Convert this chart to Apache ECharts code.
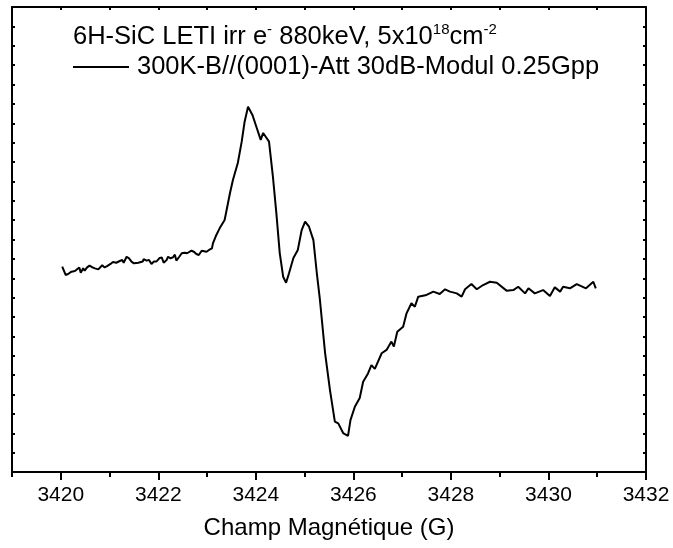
<!DOCTYPE html>
<html>
<head>
<meta charset="utf-8">
<script src="https://cdn.jsdelivr.net/npm/echarts@6/dist/echarts.min.js"></script>
<style>
html, body { margin: 0; padding: 0; background: #fff; }
#epr { width: 673px; height: 548px; }
</style>
</head>
<body>
<div id="epr"></div>
<script>
// magnetic field (G) and EPR signal (arbitrary units)
const field = [
    3420.03, 3420.10, 3420.15, 3420.22, 3420.29, 3420.33, 3420.38, 3420.41, 3420.46, 3420.49,
    3420.54, 3420.59, 3420.65, 3420.70, 3420.77, 3420.80, 3420.85, 3420.90, 3420.95, 3421.02,
    3421.07, 3421.14, 3421.21, 3421.26, 3421.29, 3421.35, 3421.40, 3421.45, 3421.50, 3421.59,
    3421.68, 3421.70, 3421.76, 3421.81, 3421.86, 3421.91, 3421.96, 3422.02, 3422.07, 3422.11,
    3422.17, 3422.20, 3422.25, 3422.30, 3422.34, 3422.37, 3422.43, 3422.48, 3422.54, 3422.59,
    3422.63, 3422.68, 3422.73, 3422.78, 3422.83, 3422.89, 3422.93, 3422.99, 3423.04, 3423.10,
    3423.12, 3423.18, 3423.26, 3423.36, 3423.47, 3423.53, 3423.63, 3423.71, 3423.77, 3423.84,
    3423.93, 3424.01, 3424.10, 3424.15, 3424.22, 3424.27, 3424.35, 3424.42, 3424.49, 3424.56,
    3424.62, 3424.68, 3424.77, 3424.86, 3424.94, 3425.01, 3425.09, 3425.18, 3425.25, 3425.31,
    3425.42, 3425.52, 3425.62, 3425.69, 3425.79, 3425.89, 3425.94, 3426.03, 3426.13, 3426.20,
    3426.30, 3426.37, 3426.44, 3426.58, 3426.68, 3426.78, 3426.83, 3426.90, 3427.02, 3427.09,
    3427.19, 3427.26, 3427.33, 3427.50, 3427.64, 3427.77, 3427.88, 3427.98, 3428.12, 3428.22,
    3428.29, 3428.42, 3428.53, 3428.66, 3428.80, 3428.94, 3429.14, 3429.28, 3429.38, 3429.52,
    3429.59, 3429.72, 3429.89, 3430.03, 3430.13, 3430.24, 3430.30, 3430.44, 3430.58, 3430.77,
    3430.92, 3430.97
];
const signal = [
    10.60, 10.17, 10.22, 10.34, 10.37, 10.43, 10.56, 10.29, 10.51, 10.39,
    10.56, 10.65, 10.56, 10.51, 10.46, 10.43, 10.67, 10.56, 10.63, 10.74,
    10.84, 10.80, 10.89, 10.94, 10.80, 11.11, 11.03, 10.86, 10.77, 10.80,
    10.86, 10.99, 10.91, 10.94, 10.74, 10.86, 10.86, 11.03, 11.08, 10.80,
    10.94, 11.11, 11.03, 11.08, 11.22, 10.91, 11.11, 11.29, 11.32, 11.29,
    11.20, 11.42, 11.37, 11.25, 11.20, 11.42, 11.42, 11.37, 11.46, 11.54,
    11.80, 12.18, 12.59, 13.01, 14.40, 15.07, 15.95, 17.05, 18.08, 18.85,
    18.43, 17.82, 17.14, 17.50, 17.24, 17.05, 15.24, 13.37, 11.30, 10.08,
    9.77, 10.26, 11.05, 11.46, 12.49, 12.92, 12.66, 11.97, 10.27, 8.98,
    6.14, 4.23, 2.60, 2.51, 2.01, 1.86, 2.68, 3.37, 3.82, 4.66,
    5.09, 5.52, 5.32, 6.13, 6.30, 6.73, 6.47, 7.24, 7.50, 8.19,
    8.71, 8.53, 9.05, 9.14, 9.31, 9.19, 9.43, 9.31, 9.22, 9.05,
    9.43, 9.70, 9.43, 9.65, 9.82, 9.77, 9.36, 9.39, 9.56, 9.22,
    9.48, 9.22, 9.39, 9.08, 9.53, 9.31, 9.56, 9.48, 9.70, 9.48,
    9.82, 9.48
];
const xTickLabels = [3420, 3422, 3424, 3426, 3428, 3430, 3432];

const chart = echarts.init(document.getElementById('epr'));

const font = 'Liberation Sans, Arial, sans-serif';
const frame = { color: '#000', width: 2 };

let option = {
    animation: false,
    backgroundColor: '#fff',
    textStyle: { fontFamily: font, color: '#000' },
    title: {
        text: '6H-SiC LETI irr e{sup|-} 880keV, 5x10{sup|18}cm{sup|-2}',
        left: 73,
        top: 22,
        padding: 0,
        textStyle: {
            fontFamily: font,
            fontSize: 25.5,
            fontWeight: 'normal',
            color: '#000',
            lineHeight: 30,
            rich: {
                sup: { fontSize: 15, verticalAlign: 'top', lineHeight: 15, color: '#000', fontFamily: font }
            }
        }
    },
    legend: {
        left: 73,
        top: 54,
        padding: 0,
        icon: 'rect',
        itemWidth: 56,
        itemHeight: 2,
        data: ['300K-B//(0001)-Att 30dB-Modul 0.25Gpp'],
        textStyle: { fontFamily: font, fontSize: 25.5, color: '#000', padding: [0, 0, 0, 3] }
    },
    grid: { left: 12, right: 27, top: 7, bottom: 76, containLabel: false },
    xAxis: [
        {
            type: 'value',
            position: 'bottom',
            min: 3419,
            max: 3432,
            name: 'Champ Magnétique (G)',
            nameLocation: 'middle',
            nameGap: 44,
            nameTextStyle: { fontFamily: font, fontSize: 24, color: '#000' },
            axisLine: { show: true, lineStyle: frame },
            axisTick: { show: true, customValues: xTickLabels, length: 8, lineStyle: frame },
            axisLabel: {
                customValues: xTickLabels,
                formatter: v => String(v),
                fontFamily: font,
                fontSize: 21,
                color: '#000',
                margin: 13
            },
            splitLine: { show: false }
        },
        {
            type: 'value',
            position: 'bottom',
            min: 3419,
            max: 3432,
            interval: 1,
            axisLine: { show: false },
            axisTick: { show: true, length: 5, lineStyle: frame },
            axisLabel: { show: false },
            splitLine: { show: false }
        },
        {
            type: 'value',
            position: 'top',
            min: 3419,
            max: 3432,
            interval: 1,
            axisLine: { show: true, lineStyle: frame },
            axisTick: { show: true, inside: true, length: 3, lineStyle: frame },
            axisLabel: { show: false },
            splitLine: { show: false }
        }
    ],
    yAxis: [
        {
            type: 'value',
            position: 'left',
            min: 0,
            max: 24,
            interval: 1,
            axisLine: { show: true, lineStyle: frame },
            axisTick: { show: true, inside: true, length: 3, lineStyle: frame },
            axisLabel: { show: false },
            splitLine: { show: false }
        },
        {
            type: 'value',
            position: 'right',
            min: 0,
            max: 24,
            interval: 1,
            axisLine: { show: true, lineStyle: frame },
            axisTick: { show: true, inside: true, length: 3, lineStyle: frame },
            axisLabel: { show: false },
            splitLine: { show: false }
        }
    ],
    series: [{
        name: '300K-B//(0001)-Att 30dB-Modul 0.25Gpp',
        type: 'line',
        xAxisIndex: 0,
        yAxisIndex: 0,
        showSymbol: false,
        symbol: 'none',
        itemStyle: { color: '#000' },
        lineStyle: { color: '#000', width: 2 },
        data: field.map((f, i) => [f, signal[i]])
    }]
};

chart.setOption(option);
</script>
</body>
</html>
